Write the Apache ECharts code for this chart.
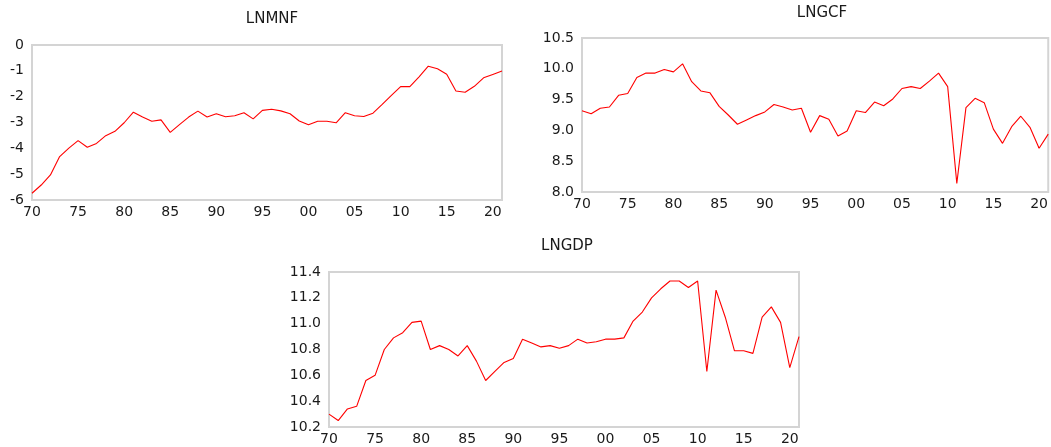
<!DOCTYPE html>
<html>
<head>
<meta charset="utf-8">
<script src="https://cdn.jsdelivr.net/npm/echarts@6/dist/echarts.min.js"></script>
<style>
    html, body { margin: 0; padding: 0; background: #fff; }
    #main { width: 1051px; height: 447px; }
</style>
</head>
<body>
<div id="main"></div>
<script>
// years 1970 - 2021, shown as two digits
var years = ['70','71','72','73','74','75','76','77','78','79',
             '80','81','82','83','84','85','86','87','88','89',
             '90','91','92','93','94','95','96','97','98','99',
             '00','01','02','03','04','05','06','07','08','09',
             '10','11','12','13','14','15','16','17','18','19',
             '20','21'];

var lnmnf = [-5.74, -5.42, -5.03, -4.32, -3.99, -3.70, -3.96, -3.81, -3.51, -3.34,
             -3.01, -2.60, -2.79, -2.95, -2.90, -3.38, -3.08, -2.79, -2.56, -2.79,
             -2.66, -2.78, -2.74, -2.62, -2.86, -2.53, -2.49, -2.55, -2.66, -2.94,
             -3.09, -2.95, -2.95, -3.01, -2.62, -2.74, -2.77, -2.64, -2.30, -1.95,
             -1.61, -1.61, -1.23, -0.82, -0.92, -1.13, -1.78, -1.83, -1.60, -1.27,
             -1.14, -1.01];

var lngcf = [9.32, 9.27, 9.36, 9.38, 9.57, 9.60, 9.86, 9.93, 9.93, 9.99,
             9.95, 10.08, 9.79, 9.64, 9.61, 9.39, 9.25, 9.10, 9.17, 9.24,
             9.30, 9.42, 9.38, 9.33, 9.36, 8.97, 9.24, 9.18, 8.91, 8.99,
             9.32, 9.29, 9.46, 9.40, 9.51, 9.68, 9.71, 9.68, 9.80, 9.93,
             9.71, 8.14, 9.37, 9.52, 9.45, 9.02, 8.79, 9.06, 9.23, 9.05,
             8.71, 8.94];

var lngdp = [10.30, 10.25, 10.34, 10.36, 10.56, 10.60, 10.80, 10.89, 10.93, 11.01,
             11.02, 10.80, 10.83, 10.80, 10.75, 10.83, 10.71, 10.56, 10.63, 10.70,
             10.73, 10.88, 10.85, 10.82, 10.83, 10.81, 10.83, 10.88, 10.85, 10.86,
             10.88, 10.88, 10.89, 11.02, 11.09, 11.20, 11.27, 11.33, 11.33, 11.28,
             11.33, 10.63, 11.26, 11.05, 10.79, 10.79, 10.77, 11.05, 11.13, 11.01,
             10.66, 10.90];

var fontFam = 'DejaVu Sans';
var textCol = '#1a1a1a';

function xAxisCfg(gi) {
    return {
        type: 'category',
        gridIndex: gi,
        data: years,
        boundaryGap: false,
        axisLine: { show: false },
        axisTick: { show: false },
        splitLine: { show: false },
        axisLabel: {
            interval: 4,
            margin: 5,
            color: textCol,
            fontFamily: fontFam,
            fontSize: 14
        }
    };
}

function yAxisCfg(gi, min, max, step, dec) {
    return {
        type: 'value',
        gridIndex: gi,
        min: min,
        max: max,
        interval: step,
        axisLine: { show: false },
        axisTick: { show: false },
        splitLine: { show: false },
        axisLabel: {
            margin: 8,
            color: textCol,
            fontFamily: fontFam,
            fontSize: 14,
            formatter: function (v) { return v.toFixed(dec); }
        }
    };
}

function lineCfg(name, idx, data) {
    return {
        name: name,
        type: 'line',
        xAxisIndex: idx,
        yAxisIndex: idx,
        data: data,
        showSymbol: false,
        animation: false,
        lineStyle: { color: '#ff0000', width: 1.1 }
    };
}

var titleStyle = { color: textCol, fontFamily: fontFam, fontSize: 15, fontWeight: 'normal' };

var myChart = echarts.init(document.getElementById('main'));
var option = {
    backgroundColor: '#fff',
    title: [
        { text: 'LNMNF', left: 267, top: 7, textAlign: 'center', textStyle: titleStyle },
        { text: 'LNGCF', left: 817, top: 1, textAlign: 'center', textStyle: titleStyle },
        { text: 'LNGDP', left: 562, top: 234, textAlign: 'center', textStyle: titleStyle }
    ],
    grid: [
        { left: 32, top: 45, width: 470, height: 155, show: true, borderColor: '#d4d4d4', borderWidth: 2 },
        { left: 582, top: 38, width: 473, height: 154, show: true, borderColor: '#d4d4d4', borderWidth: 2 },
        { left: 329, top: 272, width: 470, height: 155, show: true, borderColor: '#d4d4d4', borderWidth: 2 }
    ],
    xAxis: [xAxisCfg(0), xAxisCfg(1), xAxisCfg(2)],
    yAxis: [
        yAxisCfg(0, -6, 0, 1, 0),
        yAxisCfg(1, 8, 10.5, 0.5, 1),
        yAxisCfg(2, 10.2, 11.4, 0.2, 1)
    ],
    series: [
        lineCfg('LNMNF', 0, lnmnf),
        lineCfg('LNGCF', 1, lngcf),
        lineCfg('LNGDP', 2, lngdp)
    ]
};
myChart.setOption(option);
</script>
</body>
</html>
